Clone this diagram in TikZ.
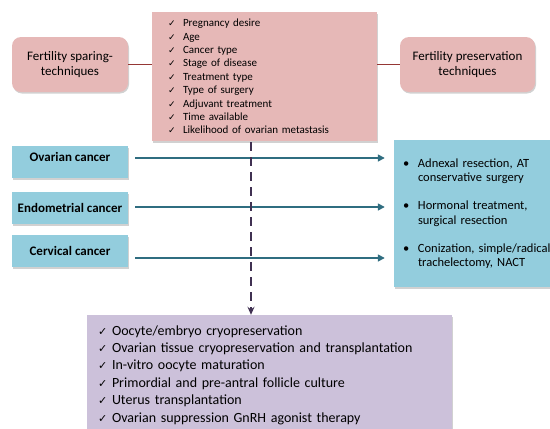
\documentclass[tikz,border=0pt]{standalone}
\usepackage{fontspec}
\setmainfont{Carlito}
\newfontfamily\symfont{DejaVu Sans}
\usetikzlibrary{arrows.meta,calc,shadows}
\definecolor{pinkfill}{HTML}{E6B8B7}
\definecolor{bluefill}{HTML}{93CDDD}
\definecolor{lilacfill}{HTML}{CCC1DA}
\definecolor{linkred}{HTML}{953735}
\definecolor{arrowteal}{HTML}{2F6D80}
\definecolor{dashpurple}{HTML}{403152}
\newcommand{\chk}[2]{\makebox[#1][l]{\symfont\fontsize{#2}{#2}\selectfont ✓}}
\newcommand{\bul}{\makebox[15pt][l]{\textbullet}}
\tikzset{
	softshadow/.style={drop shadow={shadow xshift=1pt, shadow yshift=-1.5pt, opacity=0.3, fill=black!60}},
	pinkbox/.style={fill=pinkfill, rounded corners=9pt, align=center, softshadow,
			font=\fontsize{13}{15.5}\selectfont},
	bluebox/.style={fill=bluefill, softshadow, minimum width=116pt, minimum height=32pt,
			font=\fontsize{13}{15}\selectfont\bfseries},
	redlink/.style={draw=linkred, line width=1.8pt},
	teallink/.style={draw=arrowteal, line width=1.6pt, -{Triangle[length=7pt,width=7pt]}},
	dashlink/.style={draw=dashpurple, line width=1.6pt, dash pattern=on 9pt off 6pt,
			-{Stealth[length=8pt,width=7pt]}}
}

\begin{document}
\begin{tikzpicture}[x=1pt, y=-1pt]
        \useasboundingbox (0,0) rectangle (550,429);
        \clip (0,0) rectangle (550,429);

        % Two kinds of techniques
        \node[pinkbox, minimum width=116pt, minimum height=55pt] (sparing) at (70,64.5) {Fertility sparing-\\techniques};
        \node[pinkbox, minimum width=135pt, minimum height=55pt] (preserving) at (467.5,64.5) {Fertility preservation\\techniques};

        % Factors to weigh
        \node[fill=pinkfill, softshadow, minimum width=225pt, minimum height=129pt, text width=193pt, inner xsep=16pt, align=left,
            font=\fontsize{11}{13.4}\selectfont] (factors) at (264.5,76.5) {%
            \chk{15pt}{9}Pregnancy desire\\
            \chk{15pt}{9}Age\\
            \chk{15pt}{9}Cancer type\\
            \chk{15pt}{9}Stage of disease\\
            \chk{15pt}{9}Treatment type\\
            \chk{15pt}{9}Type of surgery\\
            \chk{15pt}{9}Adjuvant treatment\\
            \chk{15pt}{9}Time available\\
            \chk{15pt}{9}Likelihood of ovarian metastasis};

        % Cancer sites
        \node[bluebox, inner ysep=0pt, text height=15.5pt, text depth=16.5pt] (ovarian) at (70,162) {Ovarian cancer};
        \node[bluebox] (endometrial) at (70,208) {Endometrial cancer};
        \node[bluebox] (cervical) at (70,251) {Cervical cancer};

        % Sparing options
        \node[fill=bluefill, softshadow, minimum width=166pt, minimum height=147pt, text width=148pt, inner xsep=9pt, align=left,
            font=\fontsize{12.5}{14.5}\selectfont] (options) at (477,213.5) {%
            \bul Adnexal resection, AT\\
            \hspace*{15pt}conservative surgery\\[13.5pt]
            \bul Hormonal treatment,\\
            \hspace*{15pt}surgical resection\\[13.5pt]
            \bul Conization, simple/radical\\
            \hspace*{15pt}trachelectomy, NACT};

        % Preservation methods
        \node[fill=lilacfill, softshadow, minimum width=365pt, minimum height=120pt, text width=343pt, inner xsep=11pt, align=left,
            font=\fontsize{14}{17.4}\selectfont] (methods) at (269.5,375) {%
            \chk{14pt}{11}Oocyte/embryo cryopreservation\\
            \chk{14pt}{11}Ovarian tissue cryopreservation and transplantation\\
            \chk{14pt}{11}In-vitro oocyte maturation\\
            \chk{14pt}{11}Primordial and pre-antral follicle culture\\
            \chk{14pt}{11}Uterus transplantation\\
            \chk{14pt}{11}Ovarian suppression GnRH agonist therapy};

        % Links
        \draw[redlink] (sparing.east) -- (sparing.east -| factors.west);
        \draw[redlink] (factors.east |- preserving.west) -- (preserving.west);

        % Arrows
        \draw[teallink] ([xshift=7pt,yshift=4pt]ovarian.east) -- ([xshift=-9pt,yshift=4pt]ovarian.east -| options.west);
        \draw[teallink] ([xshift=7pt,yshift=1pt]endometrial.east) -- ([xshift=-9pt,yshift=1pt]endometrial.east -| options.west);
        \draw[teallink] ([xshift=7pt,yshift=-7pt]cervical.east) -- ([xshift=-9pt,yshift=-7pt]cervical.east -| options.west);

        % Dashed arrow down
        \coordinate (dashtop) at (251,142);
        \draw[dashlink] (dashtop) -- (dashtop |- methods.north);
    \end{tikzpicture}
\end{document}
